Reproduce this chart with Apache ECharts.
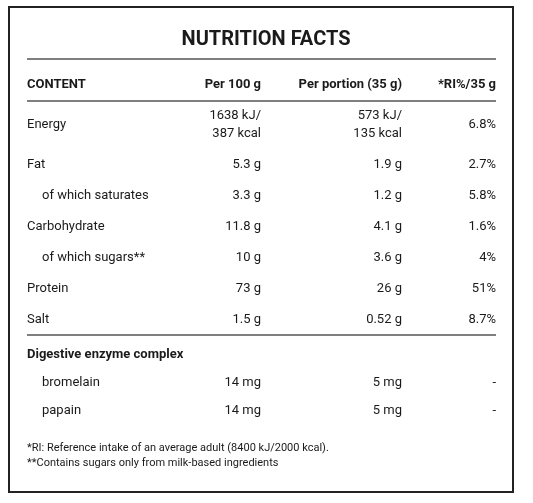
<!DOCTYPE html>
<html>
<head>
<meta charset="utf-8">
<script src="https://cdn.jsdelivr.net/npm/echarts@6/dist/echarts.min.js"></script>
<style>
  html, body { margin: 0; padding: 0; background: #fff; }
  #chart { width: 533px; height: 503px; }
</style>
</head>
<body>
<div id="chart"></div>
<script>
const headers = ['CONTENT', 'Per 100 g', 'Per portion (35 g)', '*RI%/35 g'];
const nutrients = ['Energy', 'Fat', 'of which saturates', 'Carbohydrate', 'of which sugars**', 'Protein', 'Salt'];
const per100 = ['1638 kJ/\n387 kcal', '5.3 g', '3.3 g', '11.8 g', '10 g', '73 g', '1.5 g'];
const perPortion = ['573 kJ/\n135 kcal', '1.9 g', '1.2 g', '4.1 g', '3.6 g', '26 g', '0.52 g'];
const riPercent = ['6.8%', '2.7%', '5.8%', '1.6%', '4%', '51%', '8.7%'];
const indented = [false, false, true, false, true, false, false];
const enzymeTitle = 'Digestive enzyme complex';
const enzymes = ['bromelain', 'papain'];
const enzymePer100 = ['14 mg', '14 mg'];
const enzymePortion = ['5 mg', '5 mg'];
const enzymeRi = ['-', '-'];
const footnotes = ['*RI: Reference intake of an average adult (8400 kJ/2000 kcal).', '**Contains sugars only from milk-based ingredients'];

const chart = echarts.init(document.getElementById('chart'));
const font = 'Roboto';
const col = [27, 261, 402, 496];
const rowY = [125, 165, 196, 227, 258, 289, 320];
const enzY = [383, 411];

function txt(x, y, s, opt) {
  opt = opt || {};
  return {
    type: 'text', x: x, y: y,
    style: {
      text: s, fill: '#1a1a1a', font: (opt.bold ? 'bold ' : '') + (opt.size || 13) + 'px ' + font,
      align: opt.align || 'left', verticalAlign: 'middle', lineHeight: opt.lh || 18
    }
  };
}
function line(y) {
  return { type: 'line', shape: { x1: 27, y1: y, x2: 496, y2: y }, style: { stroke: '#555', lineWidth: 1.5 } };
}

const els = [];
els.push({ type: 'rect', shape: { x: 9, y: 7, width: 504, height: 485 }, style: { fill: 'none', stroke: '#222', lineWidth: 2 } });
els.push(txt(266, 40, 'NUTRITION FACTS', { bold: true, size: 20, align: 'center' }));
els.push(line(59));
els.push(line(101));
els.push(line(335));
headers.forEach((h, i) => els.push(txt(col[i], 85, h, { bold: true, align: i === 0 ? 'left' : 'right' })));
nutrients.forEach((n, i) => {
  els.push(txt(indented[i] ? 42 : 27, rowY[i], n));
  els.push(txt(col[1], rowY[i], per100[i], { align: 'right' }));
  els.push(txt(col[2], rowY[i], perPortion[i], { align: 'right' }));
  els.push(txt(col[3], rowY[i], riPercent[i], { align: 'right' }));
});
els.push(txt(27, 355, enzymeTitle, { bold: true }));
enzymes.forEach((n, i) => {
  els.push(txt(42, enzY[i], n));
  els.push(txt(col[1], enzY[i], enzymePer100[i], { align: 'right' }));
  els.push(txt(col[2], enzY[i], enzymePortion[i], { align: 'right' }));
  els.push(txt(col[3], enzY[i], enzymeRi[i], { align: 'right' }));
});
footnotes.forEach((f, i) => els.push(txt(27, 448 + i * 15, f, { size: 11 })));

chart.setOption({ animation: false, graphic: { elements: els } });
</script>
</body>
</html>
